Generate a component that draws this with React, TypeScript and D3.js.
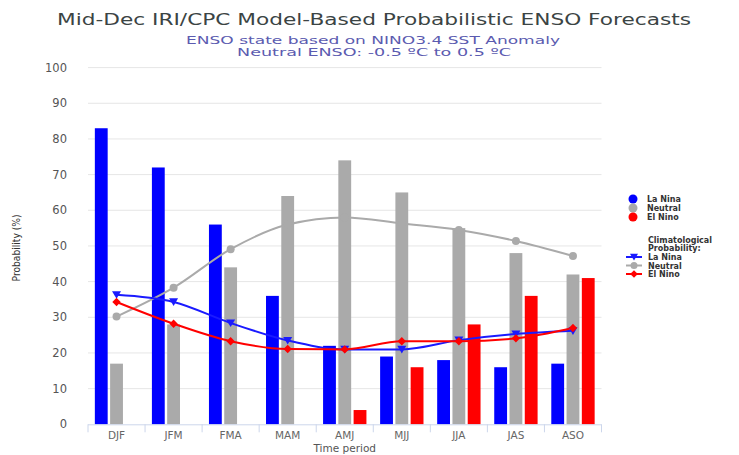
import React from "react";
import * as d3 from "d3";

const categories = ["DJF", "JFM", "FMA", "MAM", "AMJ", "MJJ", "JJA", "JAS", "ASO"];
const laNina = [83, 72, 56, 36, 22, 19, 18, 16, 17];
const neutral = [17, 28, 44, 64, 74, 65, 55, 48, 42];
const elNino = [0, 0, 0, 0, 4, 16, 28, 36, 41];
const climLaNina = [36.3, 34.3, 28.4, 23.5, 21, 21, 23.6, 25.3, 26.2];
const climNeutral = [30.2, 38.3, 49.1, 56, 58, 56.3, 54.5, 51.4, 47.2];
const climElNino = [34.3, 28.2, 23.3, 21.1, 21, 23.3, 23.3, 24.1, 27];
const yTicks = [0, 10, 20, 30, 40, 50, 60, 70, 80, 90, 100];
const seriesNames = ["La Nina", "Neutral", "El Nino"];

const W = 739;
const H = 455;
const left = 88;
const right = 601.5;
const top = 67.6;
const bottom = 424.3;

const BLUE = "#0000ff";
const GRAY = "#aaaaaa";
const RED = "#ff0000";
const FONT = "DejaVu Sans, Verdana, sans-serif";

export default function App() {
  const x = d3.scaleBand<string>().domain(categories).range([left, right]).paddingInner(0).paddingOuter(0);
  const y = d3.scaleLinear().domain([0, 100]).range([bottom, top]);
  const groupPad = 0.12;
  const x1 = d3
    .scaleBand<number>()
    .domain([0, 1, 2])
    .range([0, x.bandwidth() * (1 - 2 * groupPad)])
    .paddingInner(0.16)
    .paddingOuter(0);
  const barSeries = [laNina, neutral, elNino];
  const barColors = [BLUE, GRAY, RED];
  const cx = (c: string) => (x(c) as number) + x.bandwidth() / 2;

  const line = d3
    .line<number>()
    .x((_, i) => cx(categories[i]))
    .y((d) => y(d))
    .curve(d3.curveMonotoneX);

  const triDown = (px: number, py: number, r = 4.5) =>
    `M${px - r},${py - r * 0.8} L${px + r},${py - r * 0.8} L${px},${py + r * 0.9} Z`;
  const diamond = (px: number, py: number, r = 4.2) =>
    `M${px},${py - r} L${px + r},${py} L${px},${py + r} L${px - r},${py} Z`;

  const legendRows = [257, 265.5, 274];

  return (
    <svg width={W} height={H} style={{ position: "absolute", left: 0, top: 0, background: "#fff" }} fontFamily={FONT}>
      <rect x={0} y={0} width={W} height={H} fill="#fff" />
      {/* Titles */}
      <text x={374} y={25} textAnchor="middle" fontSize={16.5} fill="#3b4444" textLength={634} lengthAdjust="spacingAndGlyphs">
        Mid-Dec IRI/CPC Model-Based Probabilistic ENSO Forecasts
      </text>
      <text x={373} y={44} textAnchor="middle" fontSize={10.5} fill="#5b5bb0" textLength={374} lengthAdjust="spacingAndGlyphs">
        ENSO state based on NINO3.4 SST Anomaly
      </text>
      <text x={374} y={56} textAnchor="middle" fontSize={10.5} fill="#5b5bb0" textLength={274} lengthAdjust="spacingAndGlyphs">
        Neutral ENSO: -0.5 ºC to 0.5 ºC
      </text>

      {/* Grid */}
      {yTicks.map((t) =>
        t === 0 ? null : (
          <line key={"g" + t} x1={left} x2={right} y1={y(t)} y2={y(t)} stroke="#e6e6e6" strokeWidth={1} />
        )
      )}
      {yTicks.map((t) => (
        <text key={"yl" + t} x={67} y={y(t) + 4} textAnchor="end" fontSize={11.5} fill="#555">
          {t}
        </text>
      ))}
      <text
        transform={`translate(20,${(top + bottom) / 2 + 2}) rotate(-90)`}
        textAnchor="middle"
        fontSize={11}
        fill="#333"
        textLength={67}
        lengthAdjust="spacingAndGlyphs"
      >
        Probability (%)
      </text>

      {/* Bars */}
      {barSeries.map((vals, si) =>
        vals.map((v, i) =>
          v > 0 ? (
            <rect
              key={`b${si}-${i}`}
              x={(x(categories[i]) as number) + x.bandwidth() * groupPad + (x1(si) as number)}
              y={y(v)}
              width={x1.bandwidth()}
              height={y(0) - y(v)}
              fill={barColors[si]}
            />
          ) : null
        )
      )}

      {/* X axis */}
      <line x1={left} x2={right} y1={bottom + 0.5} y2={bottom + 0.5} stroke="#ccd6eb" strokeWidth={1} />
      {categories.map((c, i) => (
        <line key={"t" + i} x1={x(c) as number} x2={x(c) as number} y1={bottom} y2={bottom + 8} stroke="#ccd6eb" />
      ))}
      <line x1={right} x2={right} y1={bottom} y2={bottom + 8} stroke="#ccd6eb" />
      {categories.map((c) => (
        <text key={"xl" + c} x={cx(c)} y={439} textAnchor="middle" fontSize={10.5} fill="#666">
          {c}
        </text>
      ))}
      <text x={(left + right) / 2} y={452} textAnchor="middle" fontSize={10.5} fill="#555">
        Time period
      </text>

      {/* Climatological lines */}
      <path d={line(climNeutral) as string} fill="none" stroke={GRAY} strokeWidth={2} />
      <path d={line(climLaNina) as string} fill="none" stroke="#1a1aff" strokeWidth={2} />
      <path d={line(climElNino) as string} fill="none" stroke={RED} strokeWidth={2} />
      {climNeutral.map((v, i) => (
        <circle key={"cn" + i} cx={cx(categories[i])} cy={y(v)} r={4} fill={GRAY} />
      ))}
      {climLaNina.map((v, i) => (
        <path key={"cl" + i} d={triDown(cx(categories[i]), y(v))} fill="#1a1aff" />
      ))}
      {climElNino.map((v, i) => (
        <path key={"ce" + i} d={diamond(cx(categories[i]), y(v))} fill={RED} />
      ))}

      {/* Legend */}
      {seriesNames.map((n, i) => (
        <g key={"lg" + n}>
          <circle cx={633} cy={199 + i * 9} r={4.5} fill={barColors[i]} />
          <text x={647} y={202 + i * 9} fontSize={8} fontWeight="bold" fill="#333">
            {n}
          </text>
        </g>
      ))}
      <text x={648} y={242.5} fontSize={8} fontWeight="bold" fill="#333">
        Climatological
      </text>
      <text x={648} y={250.5} fontSize={8} fontWeight="bold" fill="#333">
        Probability:
      </text>
      {seriesNames.map((n, i) => {
        const ly = legendRows[i];
        const col = i === 0 ? "#1a1aff" : barColors[i];
        return (
          <g key={"lc" + n}>
            <line x1={626} x2={642} y1={ly} y2={ly} stroke={col} strokeWidth={2} />
            {i === 0 && <path d={triDown(634, ly, 4)} fill={col} />}
            {i === 1 && <circle cx={634} cy={ly} r={3.5} fill={col} />}
            {i === 2 && <path d={diamond(634, ly, 3.8)} fill={col} />}
            <text x={648} y={ly + 3} fontSize={8} fontWeight="bold" fill="#333">
              {n}
            </text>
          </g>
        );
      })}
    </svg>
  );
}
